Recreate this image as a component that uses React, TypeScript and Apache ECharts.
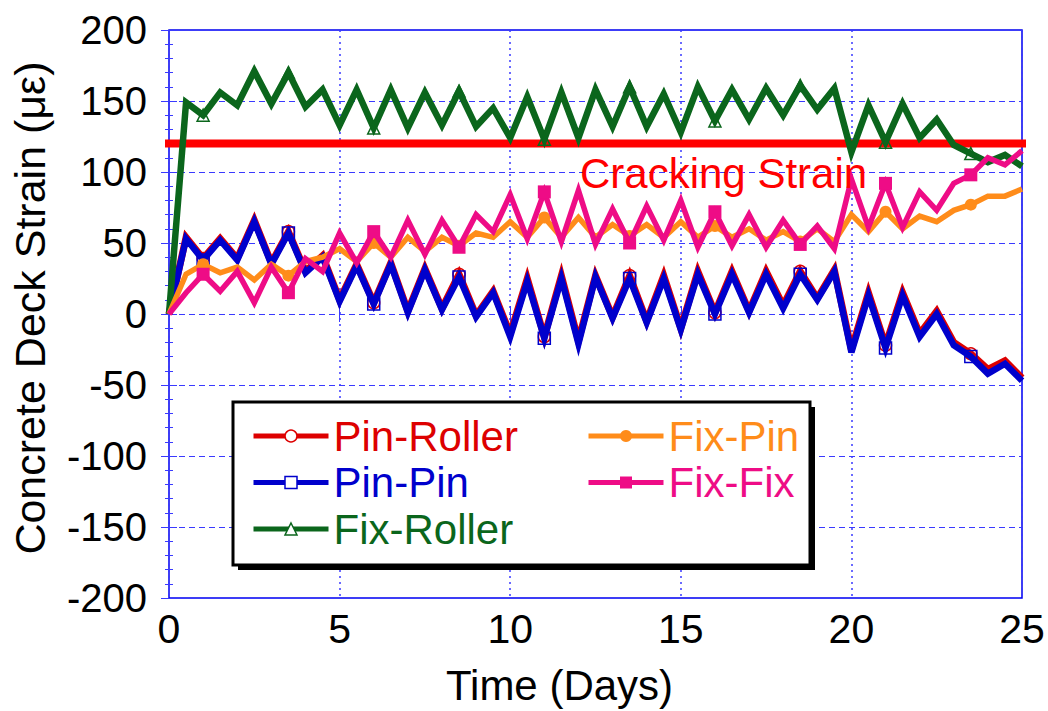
import React, { useEffect, useRef } from "react";
import * as echarts from "echarts";

// Time in days (x values)
const days = [
  0, 0.5, 1, 1.5, 2, 2.5, 3, 3.5, 4, 4.5, 5, 5.5, 6, 6.5, 7, 7.5, 8, 8.5, 9, 9.5,
  10, 10.5, 11, 11.5, 12, 12.5, 13, 13.5, 14, 14.5, 15, 15.5, 16, 16.5, 17, 17.5,
  18, 18.5, 19, 19.5, 20, 20.5, 21, 21.5, 22, 22.5, 23, 23.5, 24, 24.5, 25,
];

// Concrete deck strain (με)
const pinRoller = [
  0, 54, 39, 53, 39, 66, 36, 58, 30, 41, 10, 35, 8, 36, 2, 32, 4, 28, -1, 16,
  -14, 25, -16, 27, -19, 27, -2, 27, -5, 27, -10, 30, 1, 30, 2, 30, 6, 30, 11, 31,
  -25, 15, -22, 15, -14, 2, -20, -28, -39, -33, -45,
];
const pinPin = [
  0, 53, 38, 52, 38, 65, 35, 57, 29, 40, 9, 34, 7, 35, 1, 31, 3, 26, -2, 15,
  -16, 23, -17, 25, -21, 26, -3, 25, -6, 25, -11, 28, 0, 28, 1, 28, 4, 28, 10, 30,
  -27, 13, -24, 13, -16, 0, -22, -30, -42, -35, -47,
];
const fixRoller = [
  0, 149, 140, 156, 147, 171, 148, 170, 146, 158, 133, 158, 131, 158, 131, 156, 133, 157, 132, 145,
  124, 153, 123, 156, 124, 158, 132, 160, 132, 155, 128, 160, 136, 158, 137, 159, 140, 161, 144, 159,
  114, 147, 121, 148, 124, 137, 119, 113, 107, 112, 104,
];
const fixPin = [
  0, 28, 35, 29, 33, 24, 35, 27, 37, 40, 46, 37, 50, 40, 54, 44, 54, 48, 57, 54,
  65, 54, 68, 54, 68, 54, 63, 55, 63, 54, 65, 54, 62, 54, 60, 52, 58, 51, 60, 51,
  70, 58, 72, 60, 69, 65, 73, 77, 83, 83, 88,
];
const fixFix = [
  0, 15, 28, 16, 30, 8, 33, 15, 39, 30, 57, 36, 58, 40, 66, 42, 66, 47, 70, 58,
  84, 53, 86, 51, 87, 49, 74, 50, 76, 52, 80, 47, 72, 48, 70, 47, 66, 49, 62, 46,
  95, 61, 92, 61, 86, 73, 92, 98, 110, 105, 115,
];

// Days at which markers are drawn
const markerDays = [1, 3.5, 6, 8.5, 11, 13.5, 16, 18.5, 21, 23.5];

const crackingStrain = 120;
const crackingLabel = "Cracking Strain";

const xMin = 0;
const xMax = 25;
const xStep = 5;
const yMin = -200;
const yMax = 200;
const yStep = 50;

const FONT = "Liberation Sans, Arial, Helvetica, sans-serif";

const C_RED = "#dd0000";
const C_BLUE = "#0000cc";
const C_GREEN = "#0b661c";
const C_ORANGE = "#ff8c1a";
const C_PINK = "#ee0c86";
const C_GRID = "#3a3aff";

function build(vals: number[]) {
  return days.map((d, i) => {
    if (markerDays.indexOf(d) >= 0) return { value: [d, vals[i]] };
    return { value: [d, vals[i]], symbol: "none" };
  });
}

export default function App() {
  const ref = useRef<HTMLDivElement>(null);

  useEffect(() => {
    if (!ref.current) return;
    const chart = echarts.init(ref.current, null, { renderer: "svg" });

    const tickAxis = {
      type: "value",
      axisLine: { show: false },
      axisTick: { show: true, inside: true, length: 8, lineStyle: { color: C_GRID, width: 1 } },
      minorTick: { show: true, splitNumber: 5, length: 4, lineStyle: { color: C_GRID, width: 1 } },
      axisLabel: { show: false },
      splitLine: { show: false },
    };

    const mkSeries = (
      name: string,
      vals: number[],
      color: string,
      width: number,
      symbol: string,
      hollow: boolean,
      size: number,
      z: number
    ) => ({
      name,
      type: "line",
      data: build(vals),
      symbol,
      symbolSize: size,
      showAllSymbol: true,
      lineStyle: { color, width, join: "miter" },
      itemStyle: hollow
        ? { color: "transparent", borderColor: color, borderWidth: 1.5 }
        : { color, borderWidth: 0 },
      z,
      emphasis: { disabled: true },
    });

    const legendText = (name: string, color: string, hollow: boolean) => ({
      name,
      textStyle: { color },
      lineStyle: { width: 5, color },
      itemStyle: hollow
        ? { color: "#ffffff", borderColor: color, borderWidth: 1.5 }
        : { color, borderWidth: 0 },
    });

    const legendCommon = {
      orient: "vertical",
      top: 410,
      itemWidth: 75,
      itemHeight: 15,
      itemGap: 4.5,
      textStyle: { fontFamily: FONT, fontSize: 42 },
      selectedMode: false,
      z: 10,
    };

    chart.setOption({
      animation: false,
      backgroundColor: "#ffffff",
      grid: {
        left: 168,
        right: 26,
        top: 30,
        bottom: 107,
        show: true,
        borderColor: "#0000ee",
        borderWidth: 1.5,
        backgroundColor: "transparent",
      },
      xAxis: [
        {
          type: "value",
          min: xMin,
          max: xMax,
          interval: xStep,
          position: "bottom",
          axisLine: { show: false },
          axisTick: { show: true, inside: true, length: 8, lineStyle: { color: C_GRID } },
          axisLabel: { color: "#000", fontFamily: FONT, fontSize: 41, margin: 10 },
          splitLine: { show: true, lineStyle: { color: C_GRID, width: 1.5, type: [2, 4] } },
          name: "Time (Days)",
          nameLocation: "middle",
          nameGap: 66,
          nameTextStyle: {
            color: "#000",
            fontFamily: FONT,
            fontSize: 42,
            padding: [0, 72, 0, 0],
          },
        },
        { ...tickAxis, min: xMin, max: xMax, interval: xStep, position: "top", minorTick: { show: false } },
      ],
      yAxis: [
        {
          type: "value",
          min: yMin,
          max: yMax,
          interval: yStep,
          position: "left",
          axisLine: { show: false },
          axisTick: { show: true, inside: true, length: 8, lineStyle: { color: C_GRID } },
          minorTick: { show: true, splitNumber: 5, length: 4, lineStyle: { color: C_GRID } },
          axisLabel: { color: "#000", fontFamily: FONT, fontSize: 40, margin: 22 },
          splitLine: { show: true, lineStyle: { color: C_GRID, width: 1, type: [6, 4] } },
          name: "Concrete Deck Strain (\u03bc\u03b5)",
          nameLocation: "middle",
          nameGap: 118,
          nameTextStyle: {
            color: "#000",
            fontFamily: FONT,
            fontSize: 43,
            padding: [0, 0, 0, 12],
          },
        },
        { ...tickAxis, min: yMin, max: yMax, interval: yStep, position: "right" },
      ],
      legend: [
        {
          ...legendCommon,
          left: 246,
          data: [
            legendText("Pin-Roller", C_RED, true),
            legendText("Pin-Pin", C_BLUE, true),
            legendText("Fix-Roller", C_GREEN, true),
          ],
        },
        {
          ...legendCommon,
          left: 581,
          data: [legendText("Fix-Pin", C_ORANGE, false), legendText("Fix-Fix", C_PINK, false)],
        },
      ],
      graphic: [
        {
          type: "rect",
          z: 5,
          shape: { x: 238, y: 407, width: 577, height: 163 },
          style: { fill: "#000000" },
        },
        {
          type: "rect",
          z: 6,
          shape: { x: 233, y: 402, width: 577, height: 163 },
          style: { fill: "#ffffff", stroke: "#000000", lineWidth: 3 },
        },
        {
          type: "text",
          z: 20,
          x: 580,
          y: 173,
          style: {
            text: crackingLabel,
            fill: "#ff0000",
            fontFamily: FONT,
            fontSize: 42,
            verticalAlign: "middle",
            align: "left",
          },
        },
      ],
      series: [
        {
          name: "Cracking",
          type: "line",
          data: [
            [xMin - 0.12, crackingStrain],
            [xMax + 0.18, crackingStrain],
          ],
          symbol: "none",
          clip: false,
          silent: true,
          lineStyle: { color: "#ff0000", width: 8 },
          z: 1,
        },
        mkSeries("Pin-Roller", pinRoller, C_RED, 7, "circle", true, 12, 2),
        mkSeries("Pin-Pin", pinPin, C_BLUE, 6.5, "rect", true, 12, 3),
        mkSeries("Fix-Roller", fixRoller, C_GREEN, 6.5, "triangle", true, 12, 4),
        mkSeries("Fix-Pin", fixPin, C_ORANGE, 5.5, "circle", false, 12, 5),
        mkSeries("Fix-Fix", fixFix, C_PINK, 5.5, "rect", false, 13, 6),
      ],
    });

    return () => chart.dispose();
  }, []);

  return (
    <div
      ref={ref}
      style={{ position: "absolute", left: 0, top: 0, width: 1048, height: 711, background: "#fff" }}
    />
  );
}
